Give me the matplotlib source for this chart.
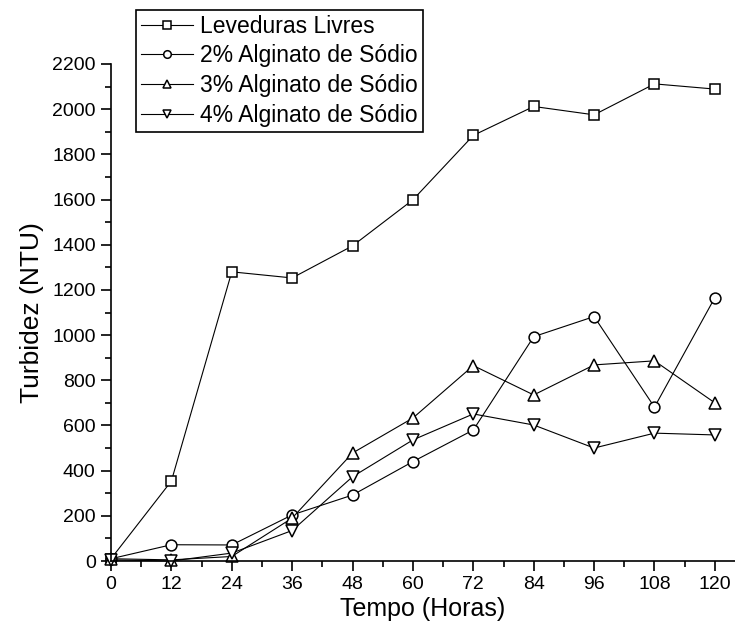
import matplotlib
matplotlib.use("Agg")
import matplotlib.pyplot as plt
from matplotlib.ticker import MultipleLocator

# Turbidez ao longo do tempo
horas = [0, 12, 24, 36, 48, 60, 72, 84, 96, 108, 120]
livres = [10, 354, 1280, 1253, 1395, 1599, 1884, 2012, 1975, 2112, 2089]
alg2 = [10, 72, 71, 204, 292, 440, 580, 993, 1082, 681, 1166]
alg3 = [10, 5, 20, 190, 478, 633, 865, 735, 868, 886, 700]
alg4 = [5, 0, 35, 135, 373, 536, 651, 602, 500, 566, 558]
nomes = ["Leveduras Livres", "2% Alginato de Sódio",
         "3% Alginato de Sódio", "4% Alginato de Sódio"]

plt.rcParams['font.family'] = ['Liberation Sans', 'DejaVu Sans']

fig = plt.figure(figsize=(7.35, 6.37), dpi=100)
ax = fig.add_axes([111 / 735, 76 / 637, 624 / 735, 497 / 637])

series = [livres, alg2, alg3, alg4]
markers = ['s', 'o', '^', 'v']
sizes = [7.8, 7.8, 8.8, 8.8]
for ys, m, ms, nome in zip(series, markers, sizes, nomes):
    ax.plot(horas, ys, color='black', lw=0.8, marker=m, ms=ms,
            mfc='white', mec='black', mew=1.1, label=nome, clip_on=False)

ax.set_xlim(0, 124)
ax.set_ylim(0, 2200)
ax.xaxis.set_major_locator(MultipleLocator(12))
ax.xaxis.set_minor_locator(MultipleLocator(6))
ax.yaxis.set_major_locator(MultipleLocator(200))
ax.yaxis.set_minor_locator(MultipleLocator(100))

for s in ['top', 'right']:
    ax.spines[s].set_visible(False)
for s in ['left', 'bottom']:
    ax.spines[s].set_linewidth(1.2)

ax.tick_params(which='major', direction='out', length=7, width=1.2,
               labelsize=14, pad=4)
ax.tick_params(which='minor', direction='out', length=4, width=1.2)

ax.set_xlabel("Tempo (Horas)", fontsize=18, labelpad=3)
ax.set_ylabel("Turbidez (NTU)", fontsize=19, labelpad=6)

leg = ax.legend(loc='upper left', bbox_to_anchor=(136 / 735, 1 - 10 / 637),
                bbox_transform=fig.transFigure, fontsize=16.5, frameon=True,
                fancybox=False, edgecolor='black', framealpha=1,
                handlelength=2.3, handletextpad=0.3, borderpad=0.2,
                labelspacing=0.3, markerscale=0.7, borderaxespad=0)
leg.get_frame().set_linewidth(1.2)

fig.savefig("out.png", dpi=100)
